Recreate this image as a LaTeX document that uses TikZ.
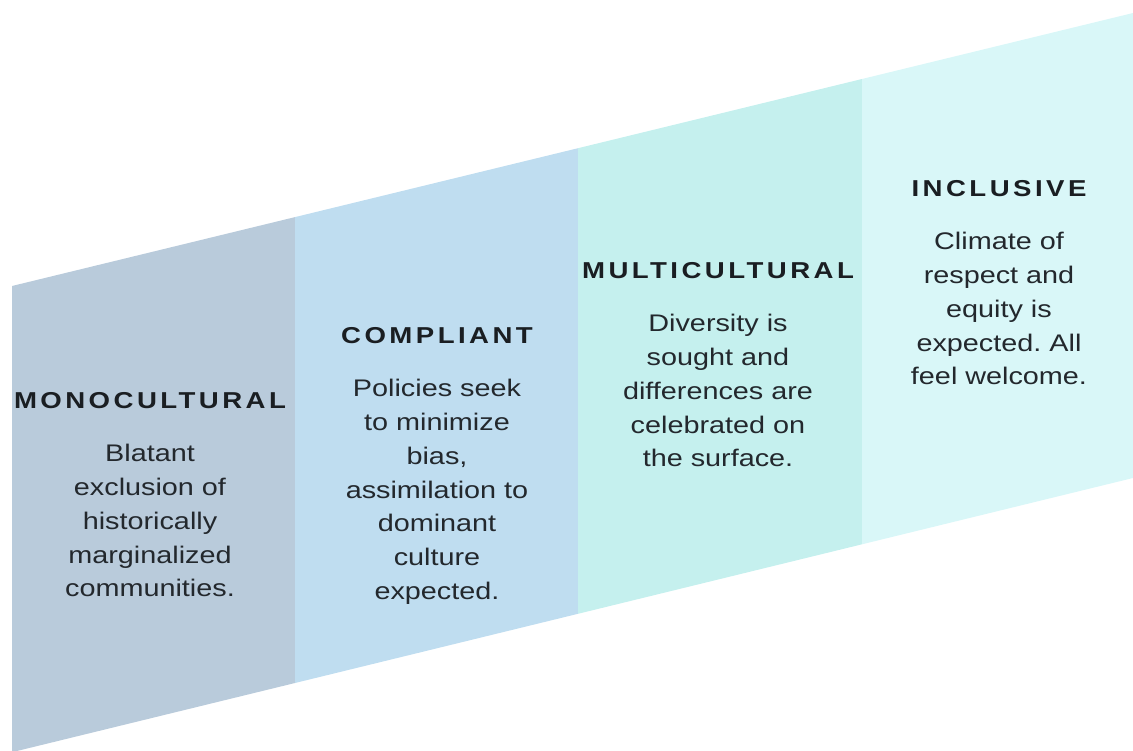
\documentclass[tikz,border=0pt]{standalone}
\usepackage{xcolor}
\usepackage{fontspec}
\usepackage{tikz}
\usetikzlibrary{positioning}

\newfontfamily\headfont{Liberation Sans}[FakeStretch=1.2,LetterSpace=15]
\newfontfamily\bodyfont{Liberation Sans}[FakeStretch=1.2]

\definecolor{monofill}{HTML}{B9CBDB}
\definecolor{complfill}{HTML}{BFDDF0}
\definecolor{multifill}{HTML}{C5F0EE}
\definecolor{inclfill}{HTML}{D9F7F8}
\definecolor{headgray}{HTML}{1A1E22}
\definecolor{bodygray}{HTML}{23282D}

\frenchspacing

\begin{document}
\begin{tikzpicture}[x=1pt,y=-1pt,
        heading/.style={font=\headfont\bfseries\fontsize{23}{26}\selectfont, text=headgray, inner sep=0pt},
        bodytext/.style={font=\bodyfont\fontsize{24}{33.7}\selectfont, text=bodygray, align=center, inner sep=0pt}
        ]
    \useasboundingbox (0,0) rectangle (1133,750);

        % Columns
        \fill[monofill] (12,286) -- (295,217.1) -- (295,683) -- (12,752.2) -- cycle;
        \fill[complfill] (295,217.1) -- (578,148.2) -- (578,613.8) -- (295,683) -- cycle;
        \fill[multifill] (578,148.2) -- (862,79) -- (862,544.3) -- (578,613.8) -- cycle;
        \fill[inclfill] (862,79) -- (1133,13) -- (1133,478) -- (862,544.3) -- cycle;

        % Headings
        \node[heading] (mono) at (150,401) {MONOCULTURAL};
        \node[heading] (compl) at (437,336) {COMPLIANT};
        \node[heading] (multi) at (718,271) {MULTICULTURAL};
        \node[heading] (incl) at (999,189) {INCLUSIVE};

        % Descriptions
        \node[bodytext, below=35pt of mono] (monotext) {Blatant\\exclusion of\\historically\\marginalized\\communities.};
        \node[bodytext, below=35pt of compl] (compltext) {Policies seek\\to minimize\\bias,\\assimilation to\\dominant\\culture\\expected.};
        \node[bodytext, below=35pt of multi] (multitext) {Diversity is\\sought and\\differences are\\celebrated on\\the surface.};
        \node[bodytext, below=35pt of incl] (incltext) {Climate of\\respect and\\equity is\\expected. All\\feel welcome.};

    \end{tikzpicture}
\end{document}
